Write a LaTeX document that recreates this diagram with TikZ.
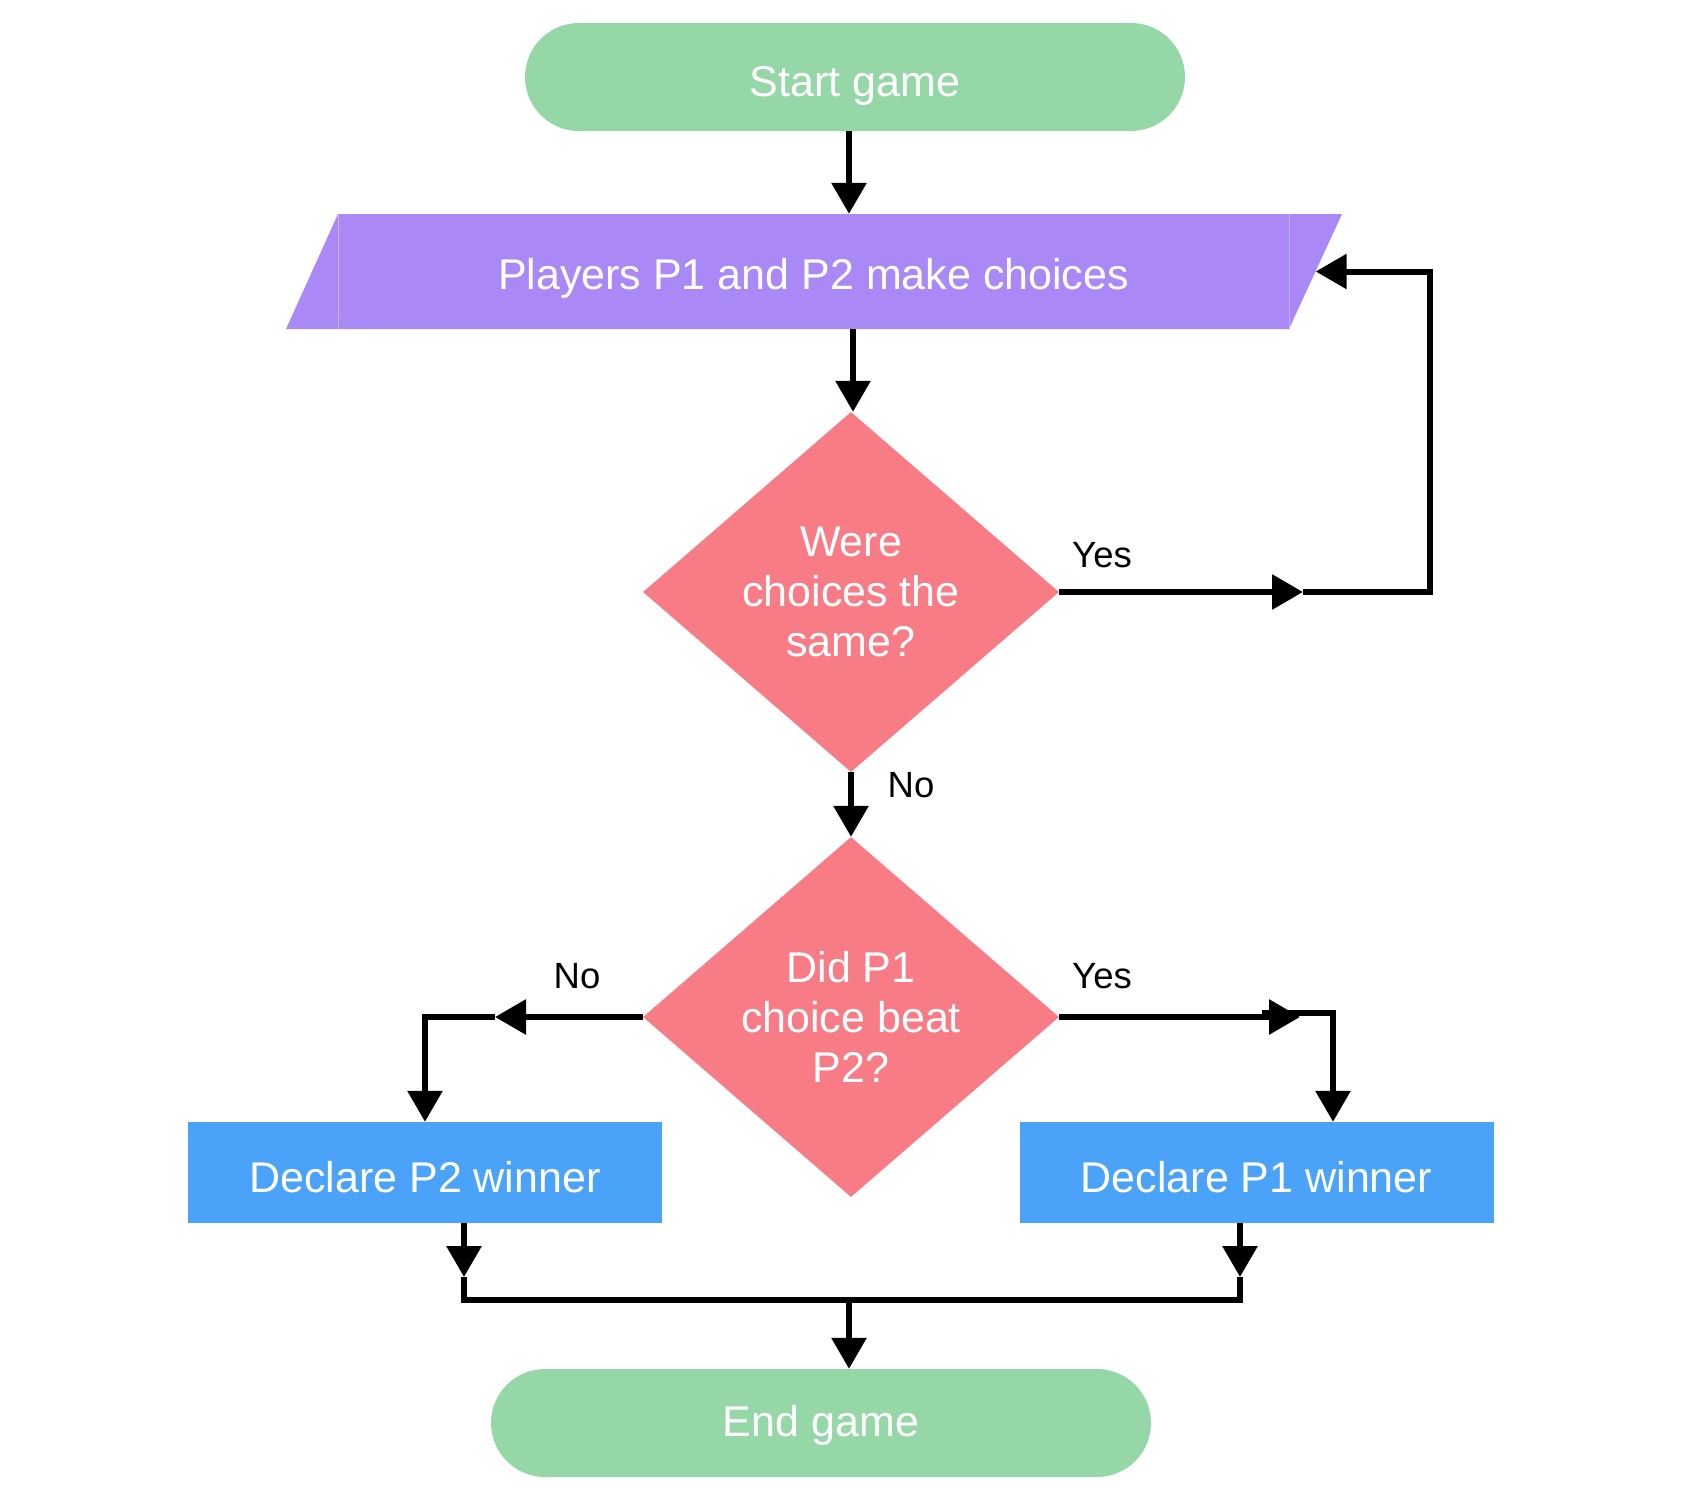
\documentclass[tikz,border=0pt]{standalone}
\usepackage{fontspec}
\setmainfont{Liberation Sans}
\usetikzlibrary{shapes.geometric,arrows.meta}
\definecolor{cgreen}{HTML}{96D7A8}
\definecolor{cpurple}{HTML}{AA89F7}
\definecolor{cred}{HTML}{F87C86}
\definecolor{cblue}{HTML}{4AA3F8}
\begin{document}
\begin{tikzpicture}[x=1pt,y=-1pt,
  big/.style={font=\fontsize{43}{50}\selectfont, text=white},
  one/.style={text height=41pt, text depth=2pt},
  term/.style={big, one, fill=cgreen, rounded corners=54pt, minimum width=660pt, minimum height=108pt, inner sep=0pt},
  proc/.style={big, one, fill=cblue, minimum width=474pt, minimum height=101pt, inner sep=0pt},
  dec/.style={big, diamond, fill=cred, aspect=1.16, minimum width=416pt, minimum height=360pt, inner sep=0pt, align=center},
  io/.style={big, one, minimum width=1004pt, minimum height=115pt, inner sep=0pt},
  lbl/.style={font=\fontsize{36.5}{40}\selectfont, text=black},
  arr/.style={line width=6pt, -{Triangle[length=31pt,width=34pt]}},
  ln/.style={line width=6pt}
]
\useasboundingbox (0,0) rectangle (1708,1504);

% nodes
\node[term] (start) at (855,77) {Start game};
\fill[cpurple] (286,329) -- (338,214) -- (1342,214) -- (1289,329) -- cycle;
\draw[cpurple!65!white, line width=1pt] (338,214) -- (338,329) (1289,214) -- (1289,329);
\node[io, text height=37pt] (choices) at (813.5,271.5) {Players P1 and P2 make choices};
\node[dec] (d1) at (851,592) {Were\\choices the\\same?};
\node[dec] (d2) at (851,1017) {Did P1\\choice beat\\P2?};
\node[proc] (p2) at (425,1172.5) {Declare P2 winner};
\node[proc] (p1) at (1256.5,1172.5) {Declare P1 winner};
\node[term, text height=29pt] (end) at (821,1423) {End game};

% coordinates
\coordinate (y1) at (1303,592);
\coordinate (y2) at (1300,1017);
\coordinate (y2b) at (1262,1013);
\coordinate (n2) at (495,1017);
\coordinate (ml) at (464,1277);
\coordinate (mr) at (1240,1277);
\coordinate (mj) at (849,1300);

% connectors
\draw[arr] ([xshift=-6pt]start.south) -- ([xshift=-6pt]start.south |- choices.north);
\draw[arr] ([xshift=2pt]choices.south -| d1.north) -- ([xshift=2pt]d1.north);
\draw[arr] (d1.east) -- (y1);
\draw[arr] (y1) -- ++(127,0) |- (choices.east);
\draw[arr] (d1.south) -- (d2.north);
\draw[arr] (d2.east) -- (y2);
\draw[arr] (y2b) -| ([xshift=76.5pt]p1.north);
\draw[arr] (d2.west) -- (n2);
\draw[arr] (n2) -| (p2.north);
\draw[arr] (p2.south -| ml) -- (ml);
\draw[arr] (p1.south -| mr) -- (mr);
\draw[ln] (ml) |- (mr |- mj) -- (mr);
\draw[arr] (mj) -- (mj |- end.north);

% labels
\node[lbl] (lyes1) at (1102,555) {Yes};
\node[lbl] (lno1) at (911,785) {No};
\node[lbl] (lyes2) at (1102,976) {Yes};
\node[lbl] (lno2) at (577,976) {No};
\end{tikzpicture}
\end{document}
